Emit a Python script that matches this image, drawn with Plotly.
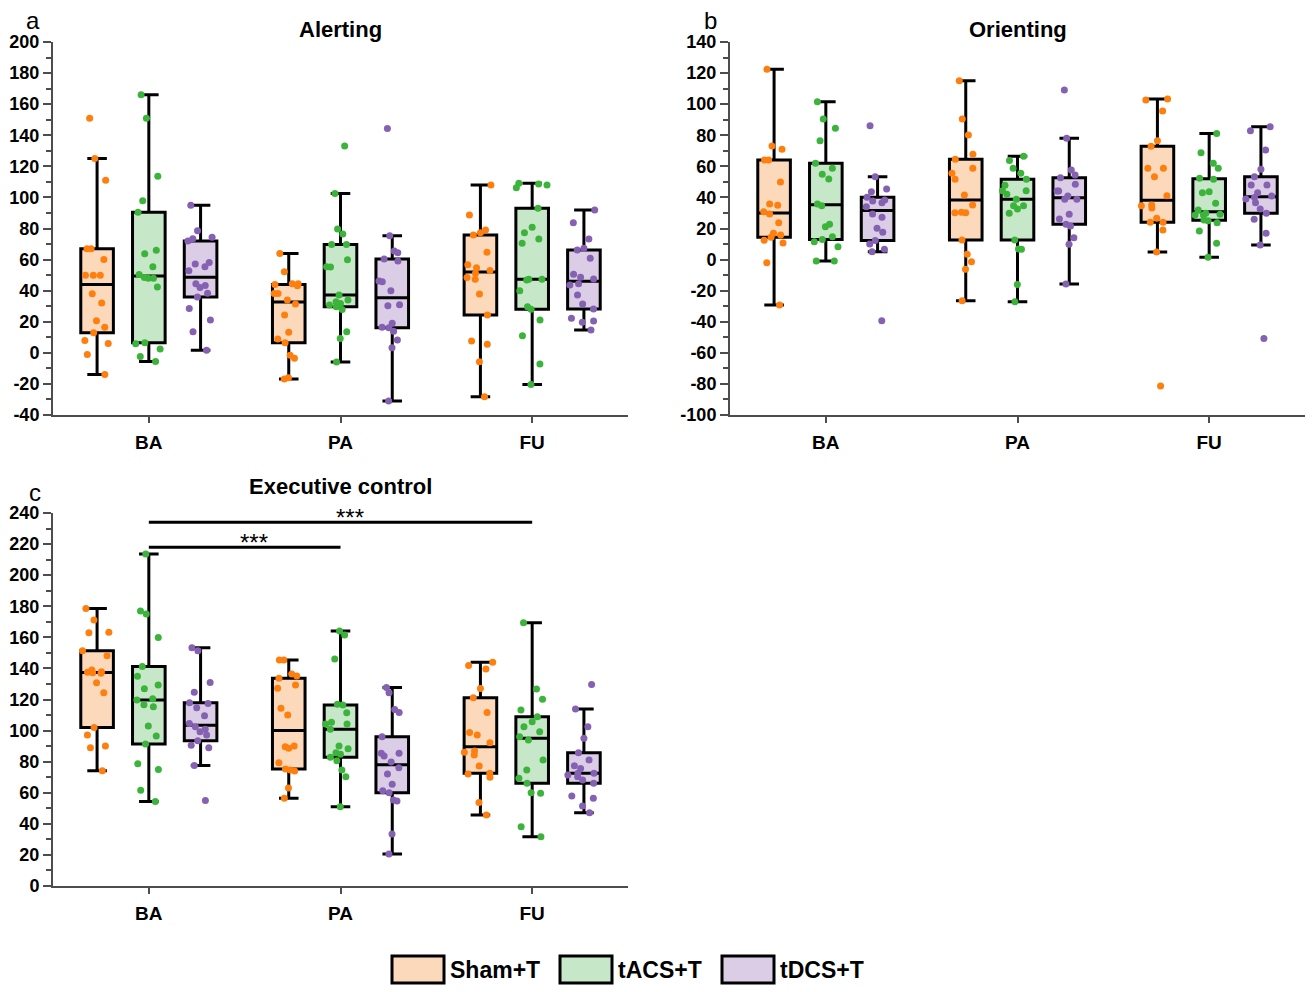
import plotly.graph_objects as go

sessions = ['BA', 'PA', 'FU']
groups = ['Sham+T', 'tACS+T', 'tDCS+T']
fill_colors = ['#fdd9bc', '#c7e7c9', '#dccde7']
dot_colors = ['#ff7f0e', '#3cb43c', '#8561b2']

# Alerting
alert_sham_ba = [151, 125, 111, 67, 67, 60, 50, 50, 50, 38, 32, 20.6, 16.4, 13, 8, 6, -1, -14]
alert_tacs_ba = [166, 151, 113.6, 97.8, 90.5, 66, 63.7, 55.4, 50.4, 48, 48, 48.5, 42.3, 6.5, 5.9, 2.4, -2.3, -5.5]
alert_tdcs_ba = [95, 78.5, 74.4, 73.4, 72, 58.2, 57.1, 55.4, 52.8, 44.4, 43.4, 42.1, 38.4, 35.9, 28.6, 21.1, 13.6, 1.6]
alert_sham_pa = [63.9, 52.1, 44.4, 44.4, 44, 43.2, 38.2, 38.2, 34, 31.4, 24.3, 13.2, 8.9, 6.5, -1.6, -3.5, -16, -16.9]
alert_tacs_pa = [133.1, 102.5, 79.6, 76.4, 69.7, 69.7, 59.9, 55.4, 55.2, 37.2, 34, 32.9, 31.8, 30.7, 29.6, 27.9, 13.6, 9.3, -5.9]
alert_tdcs_pa = [144.3, 75.4, 65.5, 64.4, 60.4, 59.1, 46.2, 45.8, 40, 31, 30.3, 19, 16.4, 16.2, 13.9, 8.3, 3.3, -31]
alert_sham_fu = [108, 88.7, 79, 77.3, 75.8, 64.7, 56.7, 54.8, 52.9, 51.2, 48.4, 47.3, 37.8, 24.3, 7.6, 5.5, -5.7, -28.2]
alert_tacs_fu = [109.1, 108.6, 108, 106.3, 93, 80.8, 77.3, 73.3, 70.5, 47.3, 47.3, 46.9, 40, 29.7, 28, 21.1, 11, -7.2, -20.3]
alert_tdcs_fu = [91.9, 83.7, 73.3, 67.3, 66.2, 60.8, 50.5, 48.6, 47.5, 44.5, 43.7, 37.2, 31.4, 28.2, 22.2, 20.5, 19.6, 14.7]

# Orienting
orient_sham_ba = [122.4, 73.1, 71, 64.1, 64.1, 49.9, 35.8, 34.9, 30.8, 29.3, 23.7, 16.9, 15.8, 14.3, 12.4, 10.7, -2, -29.2]
orient_tacs_ba = [101.6, 90.5, 84.5, 76.5, 62, 58.7, 54.9, 51.9, 35.8, 34.7, 22.7, 21.2, 14.7, 13, 11.5, 8.3, -0.9, -0.9]
orient_tdcs_ba = [86.1, 53.3, 45.4, 43.7, 40.1, 38.3, 37.7, 36.6, 34, 29.3, 27.2, 20.1, 17.6, 12.2, 10, 6.6, 5.1, -39.3]
orient_sham_pa = [115.1, 90.5, 80.2, 67.7, 64.5, 58.7, 55.5, 51.7, 41.6, 35.1, 30.4, 30.2, 30.2, 12.6, 3.4, -1.4, -6.3, -26.5]
orient_tacs_pa = [66.5, 63.7, 58.7, 55.5, 51.7, 47.8, 44.3, 44.3, 42, 38.8, 34.7, 34.7, 32.5, 29.8, 12.6, 6.8, 6.6, -16, -27.2]
orient_tdcs_pa = [109.1, 78, 57.6, 54.4, 52.7, 48.4, 44.1, 44.1, 40.9, 38.8, 38.8, 29.1, 26.1, 22.7, 21.6, 14.1, 9.8, -15.7]
orient_sham_fu = [103.3, 102.7, 95.6, 76.5, 72.9, 58.7, 58.7, 53.3, 41.1, 35.1, 34.7, 33.2, 26.6, 24, 24, 19, 4.9, -81.3]
orient_tacs_fu = [81.2, 68.8, 62, 58.7, 52.3, 51.7, 43.7, 43, 36.2, 31.9, 29.8, 29.1, 28.7, 28.7, 25.5, 25, 23.7, 18.4, 10.5, 1.5]
orient_tdcs_fu = [85.5, 82.9, 70.5, 58.1, 53.3, 48, 48, 43, 40.9, 40, 39, 36.6, 32.5, 29.8, 25.9, 16.9, 9.4, -50.7]

# Executive control
exec_sham_ba = [178.6, 171.1, 163.2, 163, 151.4, 148.2, 139, 137.9, 137.5, 137.2, 136.9, 130.8, 124.4, 102, 97.2, 90.1, 89, 74.2]
exec_tacs_ba = [213.6, 176.9, 175, 159.9, 141.3, 134.9, 129.3, 126.9, 120.5, 119.7, 116.6, 115.3, 103, 96.5, 91.4, 78.6, 75, 61.6, 54.3]
exec_tdcs_ba = [153.3, 151.4, 131, 124.6, 117.9, 117.5, 114.7, 109.6, 104.6, 102.4, 100.8, 99.3, 97.2, 93.5, 90.5, 89, 77.6, 55]
exec_sham_pa = [145.4, 145.4, 136.4, 135.1, 133.6, 129.3, 127.2, 114.3, 110, 90.1, 89.6, 88.6, 79.3, 75.3, 74.6, 74, 63.1, 56.4]
exec_tacs_pa = [164.1, 161.5, 146.1, 116.9, 116.5, 111.4, 105.3, 104.2, 104.2, 100.8, 90.1, 88.3, 85.7, 84.7, 82.8, 80.6, 74.6, 70.3, 51]
exec_tdcs_pa = [127.8, 124.4, 113.6, 111.7, 96.1, 85.4, 85.4, 83.6, 79.8, 76.1, 72.1, 65.4, 61.3, 60, 55.3, 54.7, 33.5, 20.6]
exec_sham_fu = [143.9, 141.8, 139.6, 127.1, 121.1, 111.7, 98.8, 97.2, 92.2, 86.9, 86, 84.3, 77.2, 72.5, 72.1, 69.9, 53.8, 45.7]
exec_tacs_fu = [169.4, 126.7, 120.1, 113.2, 108.9, 105.7, 102.4, 99.3, 96.1, 93.9, 81.1, 74.6, 69.3, 66.1, 60, 59.6, 38.2, 31.7]
exec_tdcs_fu = [129.7, 113.9, 102.4, 95, 85.7, 81.1, 77.3, 75.6, 72.5, 72.5, 71.4, 70.3, 68.2, 66.1, 57.9, 56.4, 51.5, 47.1]

# y tick values of each panel
alert_ticks = [-40, -20, 0, 20, 40, 60, 80, 100, 120, 140, 160, 180, 200]
orient_ticks = [-100, -80, -60, -40, -20, 0, 20, 40, 60, 80, 100, 120, 140]
exec_ticks = [0, 20, 40, 60, 80, 100, 120, 140, 160, 180, 200, 220, 240]

# significance brackets on executive control
sig_from = ['BA', 'BA']
sig_to = ['FU', 'PA']
sig_y = [234, 218]
sig_text = ['***', '***']

panels = [
    ('Alerting', 'a', alert_ticks,
     [[alert_sham_ba, alert_sham_pa, alert_sham_fu],
      [alert_tacs_ba, alert_tacs_pa, alert_tacs_fu],
      [alert_tdcs_ba, alert_tdcs_pa, alert_tdcs_fu]]),
    ('Orienting', 'b', orient_ticks,
     [[orient_sham_ba, orient_sham_pa, orient_sham_fu],
      [orient_tacs_ba, orient_tacs_pa, orient_tacs_fu],
      [orient_tdcs_ba, orient_tdcs_pa, orient_tdcs_fu]]),
    ('Executive control', 'c', exec_ticks,
     [[exec_sham_ba, exec_sham_pa, exec_sham_fu],
      [exec_tacs_ba, exec_tacs_pa, exec_tacs_fu],
      [exec_tdcs_ba, exec_tdcs_pa, exec_tdcs_fu]]),
]

# the page body has an 8px margin, so the figure is a bit smaller than the window
PAD = 8
W, H = 1315 - PAD, 992 - PAD
FONT = 'Liberation Sans'
AXIS = '#4d4d4d'

def px(v):
    return (v - PAD) / W

def py(v):
    return 1 - (v - PAD) / H

# plot area of each panel in window pixels: (left, right), (top, bottom)
boxes_px = [((53, 628), (42, 415)), ((730, 1305), (42, 415)), ((53, 628), (513, 886))]
letter_px = [(33, 21), (710, 20), (35, 492)]
title_y_px = [29, 29, 486]

fig = go.Figure()
layout = {}

for k, (title, letter, yticks, series) in enumerate(panels):
    sfx = '' if k == 0 else str(k + 1)
    for g in range(3):
        xs, ys = [], []
        for s, vals in zip(sessions, series[g]):
            xs += [s] * len(vals)
            ys += vals
        fig.add_trace(go.Box(
            x=xs, y=ys, name=groups[g],
            xaxis='x' + sfx, yaxis='y' + sfx,
            offsetgroup=groups[g], alignmentgroup='panel%d' % k,
            boxpoints='all', jitter=1, pointpos=0,
            quartilemethod='exclusive',
            fillcolor=fill_colors[g],
            line=dict(color='black', width=3),
            marker=dict(color=dot_colors[g], size=7, line=dict(width=0)),
            whiskerwidth=0.6,
            showlegend=False, hoverinfo='skip',
        ))

    (x0, x1), (y0, y1) = boxes_px[k]
    layout['xaxis' + sfx] = dict(
        domain=[px(x0), px(x1)], anchor='y' + sfx, automargin=False,
        type='category', categoryorder='array', categoryarray=sessions,
        range=[-0.5, 2.5],
        showline=True, linecolor=AXIS, linewidth=2,
        ticks='outside', ticklen=6, tickwidth=2, tickcolor=AXIS,
        ticklabelstandoff=3,
        tickfont=dict(family=FONT, size=19, color='black', weight='bold'),
        showgrid=False, zeroline=False,
    )
    layout['yaxis' + sfx] = dict(
        domain=[py(y1), py(y0)], anchor='x' + sfx, automargin=False,
        range=[yticks[0], yticks[-1]],
        tickvals=yticks, ticktext=[str(v) for v in yticks],
        showline=True, linecolor=AXIS, linewidth=2,
        ticks='outside', ticklen=8, tickwidth=2, tickcolor=AXIS,
        minor=dict(dtick=10, ticks='outside', ticklen=5, tickwidth=1.5, tickcolor=AXIS, showgrid=False),
        tickfont=dict(family=FONT, size=18, color='black', weight='bold'),
        showgrid=False, zeroline=False,
    )

annotations = []
shapes = []
for k, (title, letter, yticks, series) in enumerate(panels):
    sfx = '' if k == 0 else str(k + 1)
    annotations.append(dict(
        text='<b>%s</b>' % title, xref='x%s domain' % sfx, yref='paper',
        x=0.5, y=py(title_y_px[k]), xanchor='center', yanchor='middle',
        showarrow=False, font=dict(family=FONT, size=22, color='black'),
    ))
    lx, ly = letter_px[k]
    annotations.append(dict(
        text=letter, xref='paper', yref='paper', x=px(lx), y=py(ly),
        xanchor='center', yanchor='middle', showarrow=False,
        font=dict(family=FONT, size=24, color='black'),
    ))

# significance bars (panel c)
for a, b, yv, t in zip(sig_from, sig_to, sig_y, sig_text):
    i0, i1 = sessions.index(a), sessions.index(b)
    shapes.append(dict(type='line', xref='x3', yref='y3', x0=i0, x1=i1, y0=yv, y1=yv,
                       line=dict(color='black', width=3)))
    annotations.append(dict(
        text=t, xref='x3', yref='y3', x=(i0 + i1) / 2, y=yv, xshift=9, yshift=5,
        xanchor='center', yanchor='middle', showarrow=False,
        font=dict(family=FONT, size=24, color='black'),
    ))

# legend drawn as swatches
legend_left = [392, 560, 722]
for g in range(3):
    lx = legend_left[g]
    shapes.append(dict(type='rect', xref='paper', yref='paper',
                       x0=px(lx), x1=px(lx + 52), y0=py(983), y1=py(956),
                       fillcolor=fill_colors[g], line=dict(color='black', width=3)))
    annotations.append(dict(
        text='<b>%s</b>' % groups[g], xref='paper', yref='paper',
        x=px(lx + 56), y=py(970), xanchor='left', yanchor='middle', showarrow=False,
        font=dict(family=FONT, size=23, color='black'),
    ))

fig.update_layout(
    width=W, height=H,
    margin=dict(l=0, r=0, t=0, b=0, autoexpand=False),
    paper_bgcolor='white', plot_bgcolor='white',
    boxmode='group', boxgap=0.19, boxgroupgap=0.37,
    annotations=annotations, shapes=shapes,
    font=dict(family=FONT, color='black'),
    **layout
)

fig.write_html("out.html")
